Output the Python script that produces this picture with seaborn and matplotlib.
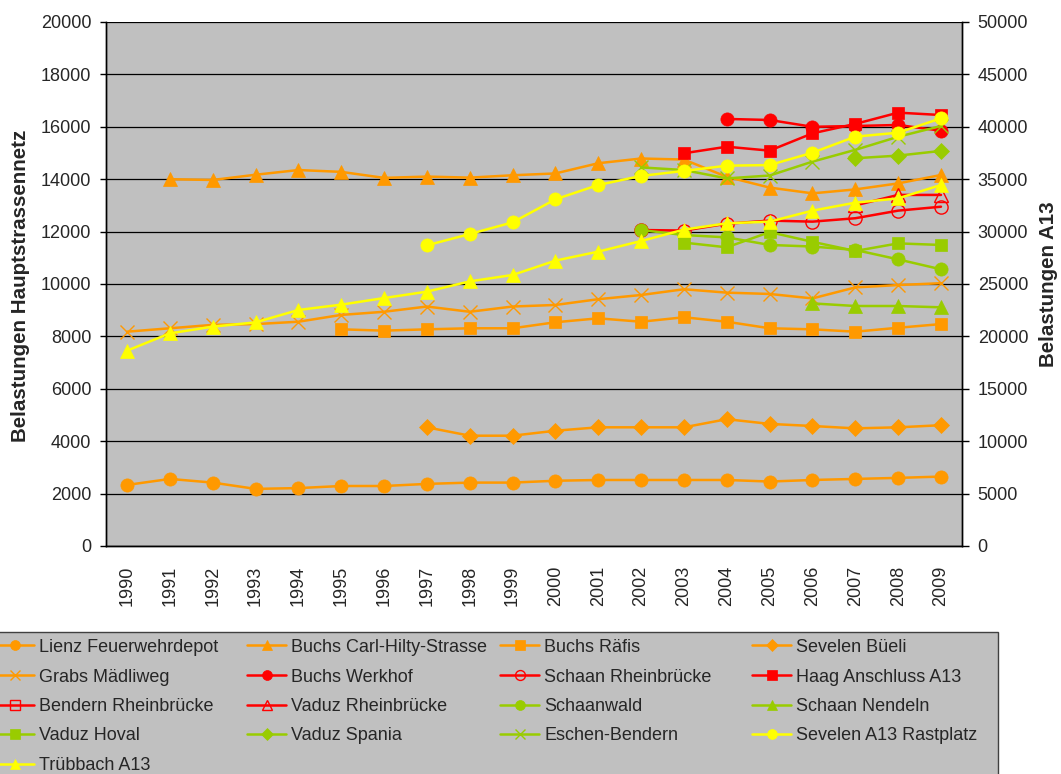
import numpy as np
import pandas as pd
import matplotlib
matplotlib.use("Agg")
import matplotlib.pyplot as plt
from matplotlib.lines import Line2D
from matplotlib.patches import Rectangle
import seaborn as sns

sns.set_style("white")
plt.rcParams["font.family"] = ["Liberation Sans", "DejaVu Sans"]

nan = np.nan
years = [str(y) for y in range(1990, 2010)]

# Traffic counts (vehicles per day), main road network
lienz_feuerwehrdepot = [2330, 2560, 2420, 2180, 2210, 2290, 2290, 2370, 2420, 2420,
                        2490, 2520, 2520, 2520, 2520, 2460, 2520, 2560, 2600, 2650]
buchs_carl_hilty = [nan, 14000, 13970, 14170, 14350, 14280, 14050, 14100, 14060, 14150,
                    14220, 14610, 14790, 14750, 14090, 13680, 13460, 13610, 13840, 14160]
buchs_raefis = [nan, nan, nan, nan, nan, 8270, 8220, 8270, 8310, 8310,
                8540, 8690, 8560, 8730, 8560, 8310, 8270, 8180, 8330, 8470]
sevelen_bueeli = [nan, nan, nan, nan, nan, nan, nan, 4530, 4210, 4210,
                  4400, 4530, 4530, 4530, 4840, 4660, 4580, 4490, 4530, 4610]
grabs_maedliweg = [8180, 8310, 8440, 8470, 8560, 8820, 8940, 9140, 8940, 9140,
                   9200, 9420, 9580, 9800, 9670, 9620, 9450, 9870, 9960, 10030]
buchs_werkhof = [nan] * 14 + [16300, 16260, 16000, 16030, 16070, 15850]
schaan_rheinbruecke = [nan] * 12 + [12060, 12040, 12300, 12420, 12380, 12510, 12800, 12950]
haag_anschluss = [nan] * 13 + [14990, 15240, 15090, 15750, 16110, 16540, 16450]
bendern_rheinbruecke = [nan] * 20
vaduz_rheinbruecke = [nan] * 17 + [13000, 13400, 13400]
schaanwald = [nan] * 12 + [12060, 11870, 11780, 11490, 11430, 11300, 10940, 10560]
schaan_nendeln = [nan] * 16 + [9260, 9160, 9160, 9110]
vaduz_hoval = [nan] * 13 + [11580, 11400, 11980, 11610, 11260, 11550, 11490]
vaduz_spania = [nan] * 17 + [14800, 14900, 15080]
eschen_bendern = [nan] * 12 + [14450, 14350, 14030, 14140, 14670, 15120, 15620, 16030]

# Motorway A13 counts (secondary axis)
sevelen_a13_rastplatz = [nan] * 7 + [28690, 29770, 30880, 33080, 34450, 35310,
                                     35790, 36290, 36350, 37530, 39060, 39440, 40810]
truebbach_a13 = [18640, 20290, 20930, 21340, 22520, 23030, 23660, 24270, 25250, 25860,
                 27230, 28090, 29100, 30190, 30790, 30950, 32000, 32760, 33170, 34450]

ORANGE, RED, GREEN, YELLOW = "#FF9900", "#FF0000", "#99CC00", "#FFFF00"

# name, values, colour, marker, filled, axis
series = [
    ("Lienz Feuerwehrdepot", lienz_feuerwehrdepot, ORANGE, "o", True, 1),
    ("Buchs Carl-Hilty-Strasse", buchs_carl_hilty, ORANGE, "^", True, 1),
    ("Buchs Räfis", buchs_raefis, ORANGE, "s", True, 1),
    ("Sevelen Büeli", sevelen_bueeli, ORANGE, "D", True, 1),
    ("Grabs Mädliweg", grabs_maedliweg, ORANGE, "x", True, 1),
    ("Buchs Werkhof", buchs_werkhof, RED, "o", True, 1),
    ("Schaan Rheinbrücke", schaan_rheinbruecke, RED, "o", False, 1),
    ("Haag Anschluss A13", haag_anschluss, RED, "s", True, 1),
    ("Bendern Rheinbrücke", bendern_rheinbruecke, RED, "s", False, 1),
    ("Vaduz Rheinbrücke", vaduz_rheinbruecke, RED, "^", False, 1),
    ("Schaanwald", schaanwald, GREEN, "o", True, 1),
    ("Schaan Nendeln", schaan_nendeln, GREEN, "^", True, 1),
    ("Vaduz Hoval", vaduz_hoval, GREEN, "s", True, 1),
    ("Vaduz Spania", vaduz_spania, GREEN, "D", True, 1),
    ("Eschen-Bendern", eschen_bendern, GREEN, "x", True, 1),
    ("Sevelen A13 Rastplatz", sevelen_a13_rastplatz, YELLOW, "o", True, 2),
    ("Trübbach A13", truebbach_a13, YELLOW, "^", True, 2),
]

marker_sizes = {"o": 9.5, "^": 10, "s": 9, "D": 8, "x": 10}

W, H = 1061, 774
fig = plt.figure(figsize=(W / 100, H / 100), dpi=100)
ax = fig.add_axes([105.6 / W, 1 - 546 / H, (962.4 - 105.6) / W, 524 / H])
ax.set_facecolor("#C0C0C0")
ax2 = ax.twinx()
ax2.set_zorder(ax.get_zorder() + 1)
ax2.patch.set_visible(False)

handles = {}
for name, vals, col, mk, filled, axis in series:
    target = ax if axis == 1 else ax2
    df = pd.DataFrame({"pos": np.arange(len(years)), "value": vals}).dropna()
    style = dict(color=col, lw=1.8, marker=mk, markersize=marker_sizes[mk],
                 markeredgecolor=col,
                 markerfacecolor=col if filled else "none",
                 markeredgewidth=1.0 if (mk == "x" or not filled) else 0.5)
    if len(df):
        sns.lineplot(data=df, x="pos", y="value", ax=target, errorbar=None,
                     legend=False, **style)
        handles[name] = target.lines[-1]
    else:
        handles[name] = Line2D([], [], **style)

# axes ranges and ticks
ax.set_xlim(-0.5, len(years) - 0.5)
ax.set_ylim(0, 20000)
ax2.set_ylim(0, 50000)
ax.set_yticks(np.arange(0, 20001, 2000))
ax2.set_yticks(np.arange(0, 50001, 5000))
ax.set_xticks(np.arange(len(years)))
ax.set_xticklabels(years, rotation=90)
ax.set_xticks(np.arange(-0.5, len(years)), minor=True)
ax.tick_params(axis="x", which="major", length=0, pad=14, labelsize=13)
ax.tick_params(axis="x", which="minor", direction="in", length=5, width=1, color="black")
ax.tick_params(axis="y", direction="out", length=4.3, width=1, pad=6, labelsize=13, color="black")
ax2.tick_params(axis="y", direction="out", length=5, width=1, pad=6, labelsize=13, color="black")
ax.set_xlabel("")
ax.set_ylabel("")
ax2.set_ylabel("")

ax.yaxis.grid(True, color="black", lw=0.9)
ax.xaxis.grid(False)
ax.set_axisbelow(True)
for a in (ax, ax2):
    for s in a.spines.values():
        s.set_color("black")
        s.set_linewidth(1)
    a.spines["top"].set_visible(False)

fig.text(21 / W, 1 - 286 / H, "Belastungen Hauptstrassennetz", rotation=90,
         ha="center", va="center", fontsize=14.8, fontweight="bold")
fig.text(1048 / W, 1 - 284 / H, "Belastungen A13", rotation=90,
         ha="center", va="center", fontsize=14.8, fontweight="bold")

# legend panel below the chart, four equal columns filled row by row
fig.patches.append(Rectangle((-0.02, -0.05), 998 / W + 0.02, 0.05 + 1 - 631.7 / H,
                             transform=fig.transFigure, facecolor="#C0C0C0",
                             edgecolor="#404040", lw=1, zorder=0))
col_x = [-5, 247, 500, 752]
row_y = [647, 677, 706.5, 736, 765.5]
for i, (name, *_rest) in enumerate(series):
    r, c = divmod(i, 4)
    fig.legend([handles[name]], [name], loc="center left",
               bbox_to_anchor=(col_x[c] / W, 1 - row_y[r] / H), bbox_transform=fig.transFigure,
               frameon=False, fontsize=13, borderpad=0, borderaxespad=0,
               handlelength=2.16, handletextpad=0.28, markerscale=0.75)

fig.savefig("out.png", dpi=100)
